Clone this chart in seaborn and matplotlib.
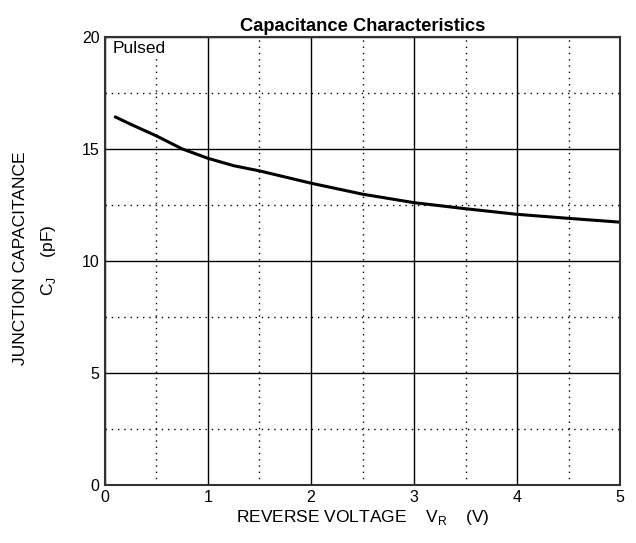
import matplotlib
matplotlib.use("Agg")
import matplotlib.pyplot as plt
import seaborn as sns
import pandas as pd
from matplotlib.ticker import MultipleLocator

# values
reverse_voltage = [0.1, 0.25, 0.5, 0.75, 1.0, 1.25, 1.5, 2.0, 2.5, 3.0, 3.5, 4.0, 4.5, 5.0]
junction_cap = [16.43, 16.1, 15.58, 15.0, 14.58, 14.25, 14.02, 13.47, 12.98, 12.6, 12.33, 12.08, 11.9, 11.73]

df = pd.DataFrame({"vr": reverse_voltage, "cj": junction_cap})

sns.set_style("white")
plt.rcParams['font.family'] = ['Liberation Sans', 'DejaVu Sans']
plt.rcParams['text.color'] = 'black'
plt.rcParams['axes.labelcolor'] = 'black'
plt.rcParams['xtick.color'] = 'black'
plt.rcParams['ytick.color'] = 'black'

fig = plt.figure(figsize=(6.36, 5.43), dpi=100)
ax = fig.add_axes([0.165, 0.107, 0.81, 0.825])

sns.lineplot(data=df, x="vr", y="cj", color="black", linewidth=2.2, ax=ax)

ax.set_xlim(0, 5)
ax.set_ylim(0, 20)
ax.xaxis.set_major_locator(MultipleLocator(1))
ax.xaxis.set_minor_locator(MultipleLocator(0.5))
ax.yaxis.set_major_locator(MultipleLocator(5))
ax.yaxis.set_minor_locator(MultipleLocator(2.5))
ax.grid(which="major", color="black", linewidth=1.0, linestyle="-")
ax.grid(which="minor", color="black", linewidth=1.0, linestyle=(0, (1, 3.5)))
ax.tick_params(which="both", length=0, labelsize=11.5, pad=4)
for s in ax.spines.values():
    s.set_color("#333333")
    s.set_linewidth(1.5)

ax.set_xlabel("REVERSE VOLTAGE    V$_\\mathregular{R}$    (V)", fontsize=12.5, labelpad=2)
ax.set_ylabel("")
ax.set_title("Capacitance Characteristics", fontsize=13.2, fontweight="bold", pad=4, color="black")
ax.text(0.07, 19.8, "Pulsed", fontsize=12.5, va="top", ha="left", zorder=5,
        bbox=dict(facecolor="white", edgecolor="none", pad=2))

fig.text(0.032, 0.525, "JUNCTION CAPACITANCE", rotation=90, fontsize=12.5, ha="center", va="center")
fig.text(0.077, 0.52, "C$_\\mathregular{J}$    (pF)", rotation=90, fontsize=12.5, ha="center", va="center")

fig.savefig("out.png", dpi=100)
